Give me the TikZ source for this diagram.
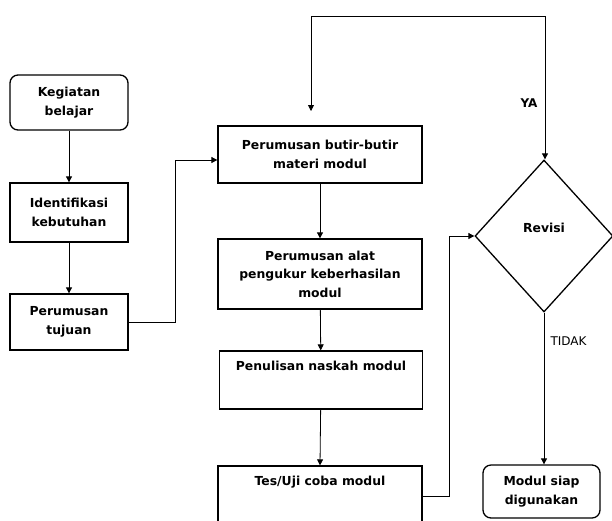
\documentclass[tikz,border=0pt]{standalone}
\usepackage{fontspec}
\setmainfont{DejaVu Sans}
\usetikzlibrary{arrows.meta,shapes.geometric}
\begin{document}
\begin{tikzpicture}[x=1pt,y=-1pt,
  font=\bfseries\fontsize{12.4}{18.5}\selectfont,
  box/.style={draw,line width=1.3pt,align=center,inner sep=2pt},
  rbox/.style={box,rounded corners=8pt},
  conn/.style={line width=0.8pt},
  arr/.style={conn,-{Triangle[length=6pt,width=6pt]}},
  lbl/.style={font=\fontsize{12}{14}\selectfont}]
\useasboundingbox (0,0) rectangle (612,520);
\clip (0,0) rectangle (612,520);
\node[rbox,minimum width=118,minimum height=55] (keg) at (69,102.5) {Kegiatan\\belajar};
\node[box,minimum width=118,minimum height=59] (ide) at (69,212.5) {Identifikasi\\kebutuhan};
\node[box,minimum width=118,minimum height=56] (tuj) at (69,322) {Perumusan\\tujuan};
\node[box,minimum width=204,minimum height=57] (but) at (320,154.5) {Perumusan butir-butir\\materi modul};
\node[box,minimum width=204,minimum height=70] (ala) at (320,274) {Perumusan alat\\pengukur keberhasilan\\modul};
\node[box,minimum width=203,minimum height=58,
  label={[anchor=north,yshift=-7pt]north:Penulisan naskah modul}] (pen) at (321,380) {};
\node[box,minimum width=204,minimum height=80,
  label={[anchor=north,yshift=-7pt]north:Tes/Uji coba modul}] (tes) at (320,506) {};
\node[draw,diamond,line width=1.3pt,minimum width=138,minimum height=152,inner sep=0pt,
  label={[yshift=8pt]center:Revisi}] (rev) at (544,236) {};
\node[rbox,minimum width=117,minimum height=53] (siap) at (541.5,491.5) {Modul siap\\digunakan};
\coordinate (c1) at (175,160);
\coordinate (t0) at (311,111);
\coordinate (t1) at (311,16);
\coordinate (t2) at (545,16);
\coordinate (c3) at (449,496);
\draw[arr] (keg) -- (ide);
\draw[arr] (ide) -- (tuj);
\draw[arr] (tuj.east) -| (c1) -- (c1 -| but.west);
\draw[conn,{Triangle[length=6pt,width=6pt]}-{Triangle[length=6pt,width=6pt]}] (t0) -- (t1) -- (t2) -- (t2 |- rev.north);
\draw[arr] (but) -- (ala);
\draw[arr] (ala) -- (pen);
\draw[arr] (pen) -- (tes.north);
\draw[arr] (c3 -| tes.east) -- (c3) |- (rev.west);
\draw[arr] (rev.south) -- (rev.south |- siap.north);
\node[lbl,anchor=east] (ya) at (541,103) {\bfseries YA};
\node[lbl,anchor=west] (tidak) at (547,341) {TIDAK};
\end{tikzpicture}
\end{document}
